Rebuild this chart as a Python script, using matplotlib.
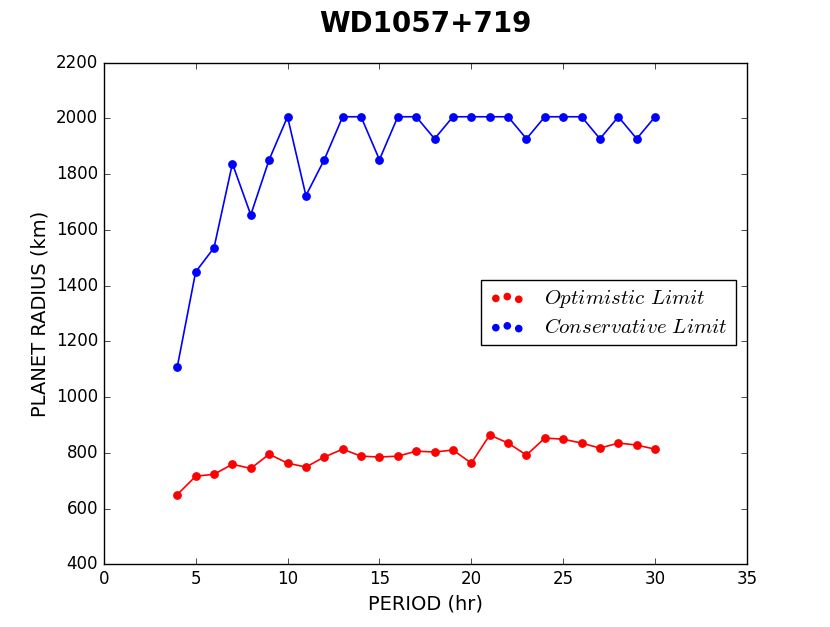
import matplotlib
matplotlib.use('Agg')
import matplotlib.pyplot as plt

plt.style.use('classic')
plt.rcParams['mathtext.fontset'] = 'cm'

period = list(range(4, 31))
optimistic = [650, 716, 723, 759, 744, 795, 763, 749, 785, 813, 788, 785, 788, 806,
              803, 810, 763, 864, 835, 792, 853, 849, 835, 817, 835, 828, 813]
conservative = [1108, 1449, 1536, 1838, 1654, 1852, 2006, 1723, 1852, 2006, 2006, 1852,
                2006, 2006, 1927, 2006, 2006, 2006, 2006, 1927, 2006, 2006, 2006, 1927,
                2006, 1927, 2006]

fig = plt.figure(figsize=(8.3, 6.27), dpi=100, facecolor='white')
ax = fig.add_axes([0.125, 0.1, 0.775, 0.8])

ax.plot(period, optimistic, color='r', linewidth=1.2)
ax.scatter(period, optimistic, color='r', s=28, edgecolors='r', zorder=3,
           label=r'$Optimistic\ Limit$')
ax.plot(period, conservative, color='b', linewidth=1.2)
ax.scatter(period, conservative, color='b', s=28, edgecolors='b', zorder=3,
           label=r'$Conservative\ Limit$')

ax.set_xlim(0, 35)
ax.set_ylim(400, 2200)
ax.set_xlabel('PERIOD (hr)', fontsize=14)
ax.set_ylabel('PLANET RADIUS (km)', fontsize=14)
ax.set_title('WD1057+719', fontsize=20, fontweight='bold', pad=22)
ax.tick_params(labelsize=12)

ax.legend(loc='center right', bbox_to_anchor=(0.9985, 0.502), scatterpoints=3,
          fontsize=15, markerscale=0.85, frameon=True, fancybox=False,
          borderpad=0.4, labelspacing=0.35, handlelength=1.7, handletextpad=0.9)

fig.savefig('out.png', dpi=100, facecolor='white')
